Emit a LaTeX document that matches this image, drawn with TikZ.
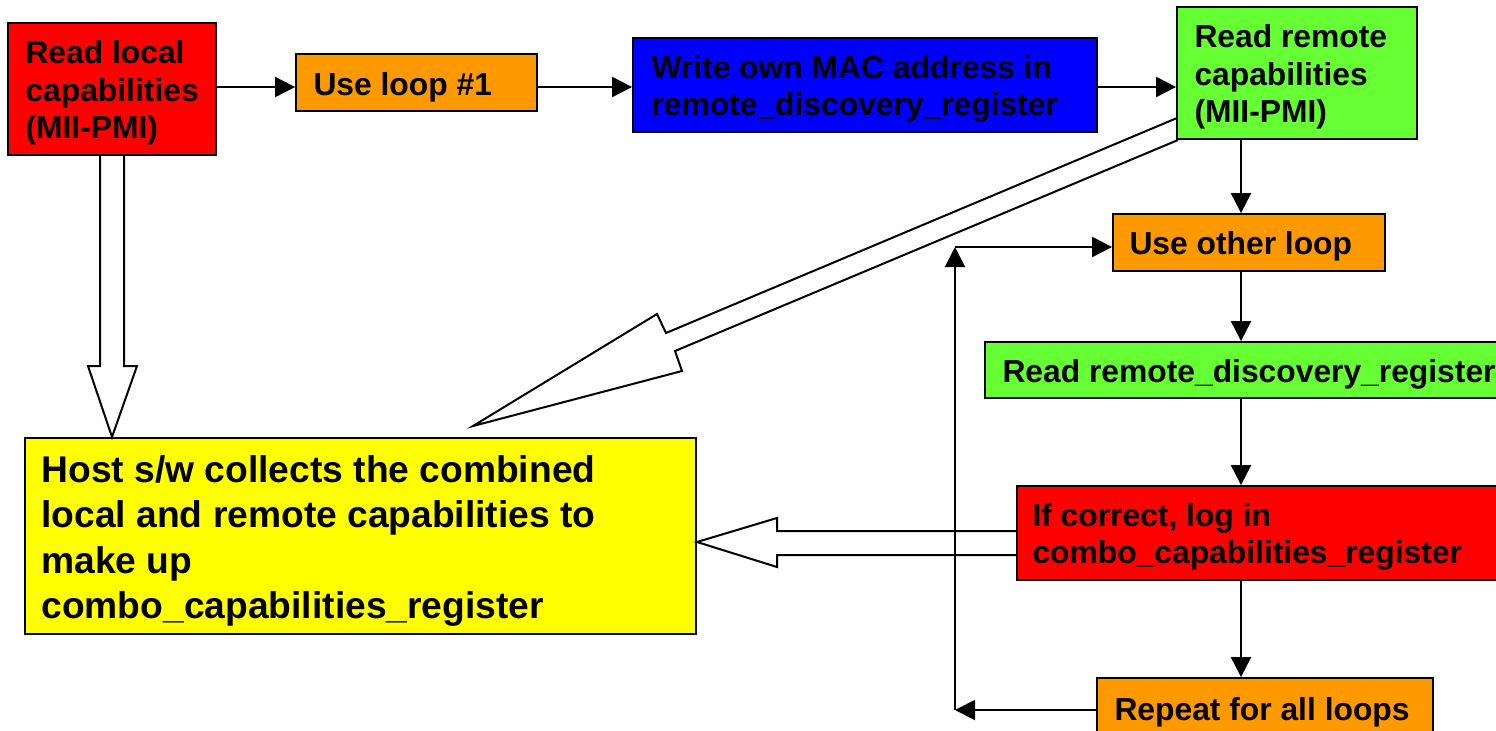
\documentclass[tikz,border=0pt]{standalone}
\usepackage{fontspec}
\setmainfont{Liberation Sans}
\usetikzlibrary{arrows.meta}
\definecolor{cRed}{RGB}{255,0,0}
\definecolor{cOrange}{RGB}{255,153,0}
\definecolor{cBlue}{RGB}{0,0,255}
\definecolor{cGreen}{RGB}{102,255,51}
\definecolor{cYellow}{RGB}{255,255,0}
\begin{document}
\begin{tikzpicture}[x=0.5pt,y=-0.5pt,
  box/.style={draw=black,line width=0.9pt,rectangle,inner sep=0pt},
  txt/.style={anchor=west,align=left,inner sep=0pt,text=black,font=\bfseries\fontsize{15.9}{18.8}\selectfont},
  bigtxt/.style={anchor=west,align=left,inner sep=0pt,text=black,font=\bfseries\fontsize{18.6}{22.7}\selectfont},
  arr/.style={line width=1pt,-{Triangle[length=10pt,width=10pt]}},
  blk/.style={draw=black,line width=1pt,line join=miter}]
\useasboundingbox (0,0) rectangle (1496,730);
% boxes
\node[box,fill=cRed,minimum width=104pt,minimum height=66pt] (r1) at (112,89) {};
\node[box,fill=cOrange,minimum width=120.5pt,minimum height=28.5pt] (o1) at (416.5,82.5) {};
\node[box,fill=cBlue,minimum width=232pt,minimum height=47pt] (b1) at (865,85) {};
\node[box,fill=cGreen,minimum width=120pt,minimum height=66pt] (g1) at (1297,73) {};
\node[box,fill=cOrange,minimum width=136pt,minimum height=28.5pt] (o2) at (1249,242.5) {};
\node[box,fill=cGreen,minimum width=262.5pt,minimum height=28pt] (g2) at (1247.5,370) {};
\node[box,fill=cRed,minimum width=246.5pt,minimum height=47pt] (r2) at (1263.5,533) {};
\node[box,fill=cOrange,minimum width=168pt,minimum height=31pt] (o3) at (1265,709) {};
\node[box,fill=cYellow,minimum width=335.5pt,minimum height=98pt] (y1) at (360.5,536) {};
% texts
\node[txt] (r1t) at ([xshift=9pt,yshift=-2pt]r1.west) {Read local\\capabilities\\(MII-PMI)};
\node[txt] (o1t) at ([xshift=9pt,yshift=-2.5pt]o1.west) {Use loop \#1};
\node[txt] (b1t) at ([xshift=9.5pt,yshift=-2pt]b1.west) {Write own MAC address in\\remote\_discovery\_register};
\node[txt] (g1t) at ([xshift=9pt,yshift=-2pt]g1.west) {Read remote\\capabilities\\(MII-PMI)};
\node[txt] (o2t) at ([xshift=8.5pt,yshift=-2pt]o2.west) {Use other loop};
\node[txt] (g2t) at ([xshift=9pt,yshift=-2pt]g2.west) {Read remote\_discovery\_register};
\node[txt] (r2t) at ([xshift=8pt,yshift=-2pt]r2.west) {If correct, log in\\combo\_capabilities\_register};
\node[txt] (o3t) at ([xshift=9pt,yshift=-1.5pt]o3.west) {Repeat for all loops};
\node[bigtxt] (y1t) at ([xshift=8.5pt,yshift=-2.5pt]y1.west) {Host s/w collects the combined\\local and remote capabilities to\\make up\\combo\_capabilities\_register};
% block arrows
\draw[blk] (100,155) -- (100,366) -- (88,366) -- (112,437) -- (137,366) -- (124,366) -- (124,155);
\draw[blk] (1177,118) -- (666,333) -- (657,314) -- (473,426) -- (682,371) -- (675,351) -- (1178,140);
\draw[blk] (1017,531) -- (777,531) -- (777,518) -- (697,542) -- (777,567) -- (777,555) -- (1017,555);
% connectors
\coordinate (row) at (0,87);
\coordinate (col) at (1241,0);
\coordinate (lb) at (955,710);
\coordinate (lt) at (955,247);
\draw[arr] (r1.east |- row) -- (o1.west |- row);
\draw[arr] (o1.east |- row) -- (b1.west |- row);
\draw[arr] (b1.east |- row) -- (g1.west |- row);
\draw[arr] (g1.south -| col) -- (o2.north -| col);
\draw[arr] (o2.south -| col) -- (g2.north -| col);
\draw[arr] (g2.south -| col) -- (r2.north -| col);
\draw[arr] (r2.south -| col) -- (o3.north -| col);
\draw[arr] (o3.west |- lb) -- (lb);
\draw[arr] (lb) -- (lt);
\draw[arr] (lt) -- (o2.west |- lt);
\end{tikzpicture}
\end{document}
